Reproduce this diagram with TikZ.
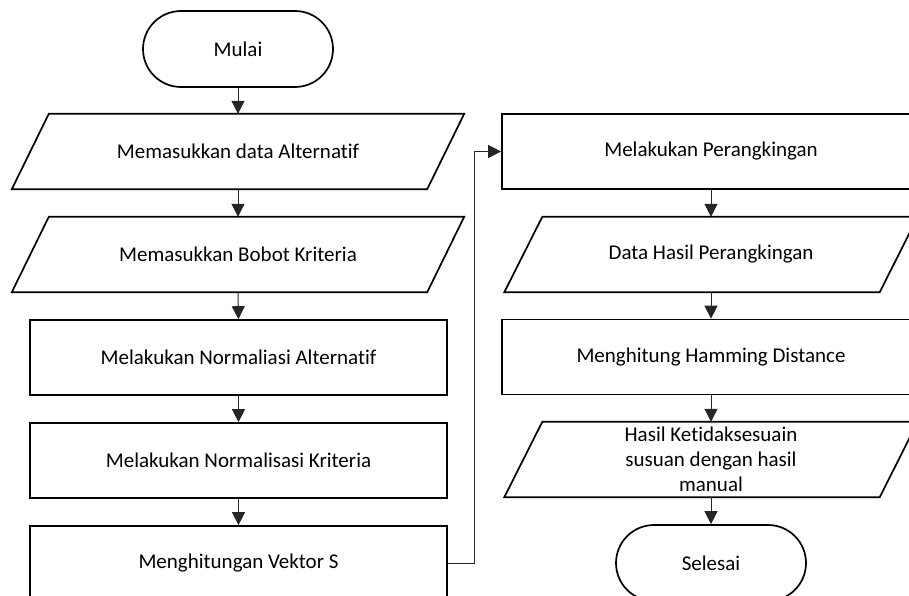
\documentclass[tikz,border=0pt]{standalone}
\usepackage{fontspec}
\setmainfont{Carlito}[Ligatures=NoCommon]
\usetikzlibrary{shapes.misc,arrows.meta,calc}
\begin{document}
\begin{tikzpicture}[x=1pt,y=-1pt,
  every node/.style={font=\fontsize{21}{25}\selectfont, text=black},
  box/.style={draw=black, line width=1.7pt, minimum height=75pt, inner sep=0pt},
  procbox/.style={box, minimum width=417pt},
  procboxr/.style={box, minimum width=418pt},
  iobox/.style={minimum height=75pt, inner sep=0pt, align=center},
  term/.style={draw=black, line width=1.7pt, rounded rectangle, minimum width=190pt, minimum height=76pt, inner sep=0pt},
  conn/.style={draw=black!85, line width=1pt, -{Triangle[length=13pt,width=13pt]}},
  link/.style={draw=black!85, line width=1pt}
]
\useasboundingbox (0,0) rectangle (909,595);
\clip (0,0) rectangle (909,595);
\fill[white] (0,0) rectangle (909,595);

% left column
\node[term] (mulai) at (238,49) {Mulai};
\node[iobox, minimum width=415pt] (p1) at (238,151.5) {Memasukkan data Alternatif};
\node[iobox, minimum width=415pt] (p2) at (238,254.5) {Memasukkan Bobot Kriteria};
\node[procbox] (r1) at (238.5,357.5) {Melakukan Normaliasi Alternatif};
\node[procbox] (r2) at (238.5,460.5) {Melakukan Normalisasi Kriteria};
\node[procbox] (r3) at (238.5,563.5) {Menghitungan Vektor S};

% right column
\node[procboxr] (r4) at (711,151.5) {Melakukan Perangkingan};
\node[iobox, minimum width=375pt] (p3) at (711,254.5) {Data Hasil Perangkingan};
\node[procboxr] (r5) at (711,357) {Menghitung Hamming Distance};
\node[iobox, minimum width=375pt] (p4) at (711,459.5) {Hasil Ketidaksesuain\\susuan dengan hasil\\manual};
\node[term] (selesai) at (711,563) {Selesai};

% parallelogram outlines
\foreach \n/\s in {p1/18.5, p2/18.5, p3/19, p4/19}{
  \draw[black, line width=1.7pt, line join=miter]
    ($(\n.north west)+(\s,0)$) -- ($(\n.north east)+(\s,0)$) --
    ($(\n.south east)-(\s,0)$) -- ($(\n.south west)-(\s,0)$) -- cycle;
}

% connectors
\draw[conn] (mulai.south) -- (p1.north);
\draw[conn] (p1.south) -- (p2.north);
\draw[conn] (p2.south) -- (r1.north);
\draw[conn] (r1.south) -- (r2.north);
\draw[conn] (r2.south) -- (r3.north);

\coordinate (bend) at (474,0);
\draw[conn] (r3.east) -- (r3.east -| bend) |- (r4.west);

\draw[conn] (r4.south) -- (p3.north);
\draw[conn] (p3.south) -- (r5.north);
\draw[conn] (r5.south) -- (p4.north);
\draw[conn] (p4.south) -- (selesai.north);
\end{tikzpicture}
\end{document}
